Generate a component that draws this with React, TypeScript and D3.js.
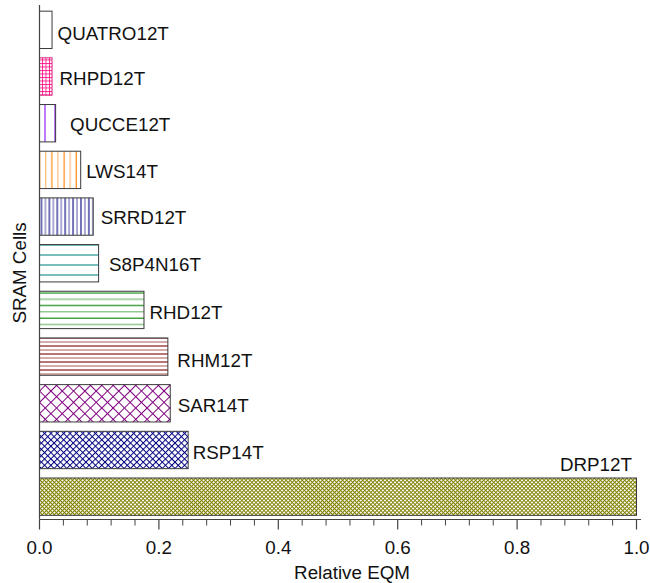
import React from "react";
import * as d3 from "d3";

// SRAM cells, listed top to bottom
const cells = [
  "QUATRO12T",
  "RHPD12T",
  "QUCCE12T",
  "LWS14T",
  "SRRD12T",
  "S8P4N16T",
  "RHD12T",
  "RHM12T",
  "SAR14T",
  "RSP14T",
  "DRP12T",
];

// Relative EQM for each cell
const relativeEqm = [0.021, 0.021, 0.027, 0.069, 0.09, 0.099, 0.175, 0.215, 0.219, 0.249, 1.0];

const majorTicks = [0, 0.2, 0.4, 0.6, 0.8, 1.0];
const tickLabels = ["0.0", "0.2", "0.4", "0.6", "0.8", "1.0"];

type Hatch = {
  kind: "none" | "v" | "h" | "grid" | "diag";
  color: string;
  step: number;
  alt?: boolean;
  stroke?: string;
};

// Fill style per bar (same order as cells)
const hatches: Hatch[] = [
  { kind: "none", color: "#000", step: 10 },
  { kind: "grid", color: "#ff0080", step: 3.5, stroke: "#e0207a" },
  { kind: "v", color: "#8000ff", step: 10 },
  { kind: "v", color: "#ff8000", step: 6.1, alt: true },
  { kind: "v", color: "#000080", step: 3.95, alt: true },
  { kind: "h", color: "#008080", step: 10 },
  { kind: "h", color: "#008000", step: 6.3, alt: true },
  { kind: "h", color: "#800000", step: 4, alt: true },
  { kind: "diag", color: "#800080", step: 8 },
  { kind: "diag", color: "#000080", step: 4.5 },
  { kind: "diag", color: "#808000", step: 2.85 },
];

// Label nudges: gap after the bar end and vertical shift
const labelGap = [5, 7, 14, 5, 7, 10, 5, 9, 7, 4];
const labelShift = [3, 1.4, 1, 1.3, 0.5, 0.7, 2.7, 4, 2.4, 2.5];

const W = 650;
const H = 583;
const FS = 18.8;
const FONT = "'Liberation Sans', Arial, Helvetica, sans-serif";
const AXIS = "#444";

function HatchPattern({ id, h }: { id: string; h: Hatch }) {
  const s = h.step;
  if (h.kind === "v" || h.kind === "h") {
    const period = h.alt ? 2 * s : s;
    const lines = h.alt
      ? [
          { p: s / 2, o: 1 },
          { p: (3 * s) / 2, o: 0.6 },
        ]
      : [{ p: s / 2, o: 0.95 }];
    return (
      <pattern id={id} patternUnits="userSpaceOnUse" width={period} height={period}>
        <rect width={period} height={period} fill="#fff" />
        {lines.map((l, i) =>
          h.kind === "v" ? (
            <line key={i} x1={l.p} x2={l.p} y1={0} y2={period} stroke={h.color} strokeOpacity={l.o} strokeWidth={1.1} />
          ) : (
            <line key={i} y1={l.p} y2={l.p} x1={0} x2={period} stroke={h.color} strokeOpacity={l.o} strokeWidth={1.1} />
          )
        )}
      </pattern>
    );
  }
  if (h.kind === "grid" || h.kind === "diag") {
    return (
      <pattern
        id={id}
        patternUnits="userSpaceOnUse"
        width={s}
        height={s}
        patternTransform={h.kind === "diag" ? "rotate(45)" : undefined}
      >
        <rect width={s} height={s} fill="#fff" />
        <line x1={0.5} x2={0.5} y1={0} y2={s} stroke={h.color} strokeWidth={h.kind === "diag" ? 1 : 0.8} />
        <line y1={0.5} y2={0.5} x1={0} x2={s} stroke={h.color} strokeWidth={h.kind === "diag" ? 1 : 0.8} />
      </pattern>
    );
  }
  return null;
}

export default function App() {
  const x = d3.scaleLinear().domain([0, 1]).range([39.5, 636.5]);
  const y = d3.scaleBand<string>().domain(cells).range([6.5, 520]).paddingInner(0.2).paddingOuter(0.1);
  const axisY = 519.5;
  const minorTicks = d3.range(0, 1.0001, 0.04).filter((t) => Math.abs(t / 0.2 - Math.round(t / 0.2)) > 1e-6);
  const bw = y.bandwidth();

  return (
    <svg
      width={W}
      height={H}
      style={{ position: "absolute", left: 0, top: 0, background: "#fff" }}
      fontFamily={FONT}
    >
      <defs>
        {hatches.map((h, i) => (
          <HatchPattern key={i} id={`hatch-${i}`} h={h} />
        ))}
      </defs>
      <rect width={W} height={H} fill="#fff" />

      {/* bars */}
      {cells.map((c, i) => {
        const h = hatches[i];
        const y0 = y(c) as number;
        return (
          <rect
            key={c}
            x={x(0)}
            y={y0}
            width={x(relativeEqm[i]) - x(0)}
            height={bw}
            fill={h.kind === "none" ? "#fff" : `url(#hatch-${i})`}
            stroke={h.stroke ?? "#3a3a3a"}
            strokeWidth={1}
          />
        );
      })}

      {/* bar labels */}
      {cells.map((c, i) => {
        const y0 = y(c) as number;
        if (i === cells.length - 1) {
          return (
            <text key={c} x={x(relativeEqm[i]) - 4.5} y={y0 - 7} fontSize={FS} textAnchor="end" fill="#111">
              {c}
            </text>
          );
        }
        return (
          <text
            key={c}
            x={x(relativeEqm[i]) + 0.5 + labelGap[i]}
            y={y0 + bw / 2 + 6.7 + labelShift[i]}
            fontSize={FS}
            fill="#111"
          >
            {c}
          </text>
        );
      })}

      {/* y axis */}
      <line x1={x(0)} x2={x(0)} y1={5} y2={axisY} stroke={AXIS} strokeWidth={1.2} />

      {/* x axis */}
      <line x1={x(0)} x2={641} y1={axisY} y2={axisY} stroke={AXIS} strokeWidth={1.2} />
      {minorTicks.map((t) => (
        <line key={`m${t}`} x1={x(t)} x2={x(t)} y1={axisY} y2={axisY + 6} stroke={AXIS} strokeWidth={1} />
      ))}
      {majorTicks.map((t, i) => (
        <g key={`M${t}`}>
          <line x1={x(t)} x2={x(t)} y1={axisY} y2={axisY + 10} stroke={AXIS} strokeWidth={1.2} />
          <text x={x(t)} y={553.5} fontSize={FS} textAnchor="middle" fill="#111">
            {tickLabels[i]}
          </text>
        </g>
      ))}

      {/* axis titles */}
      <text x={352} y={579} fontSize={FS} textAnchor="middle" fill="#111">
        Relative EQM
      </text>
      <text transform="translate(26,273) rotate(-90)" fontSize={FS} textAnchor="middle" fill="#111">
        SRAM Cells
      </text>
    </svg>
  );
}
